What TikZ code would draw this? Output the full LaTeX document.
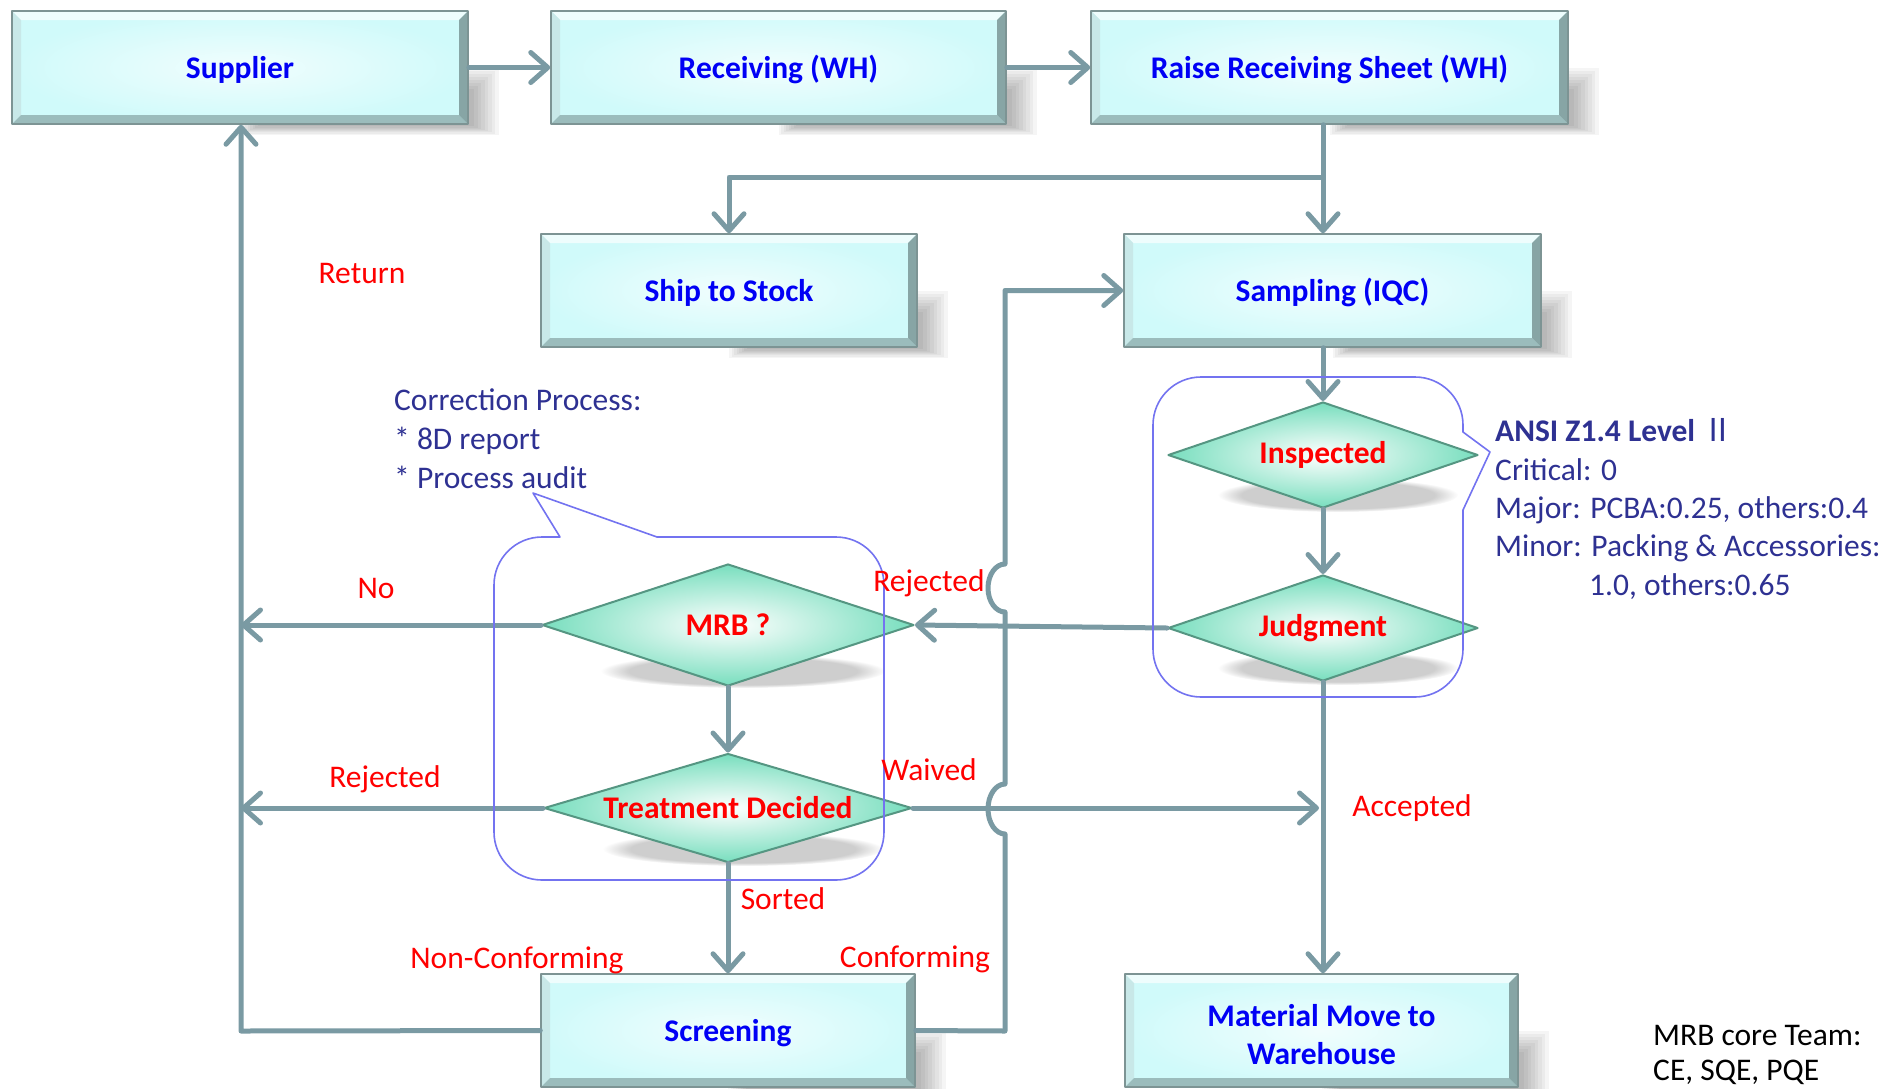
\documentclass[tikz,border=0pt]{standalone}
\usepackage{fontspec}
\setmainfont{Carlito}
\newfontfamily\numfont{Noto Sans CJK SC}
\usetikzlibrary{shapes.geometric,arrows.meta,fadings,calc,backgrounds}

\definecolor{wire}{RGB}{122,154,163}
\definecolor{boxcyan}{RGB}{208,250,250}
\definecolor{boxline}{RGB}{125,148,148}
\definecolor{bevtop}{RGB}{238,253,253}
\definecolor{bevleft}{RGB}{200,232,232}
\definecolor{bevbottom}{RGB}{155,188,188}
\definecolor{bevright}{RGB}{135,165,165}
\definecolor{mint}{RGB}{120,222,190}
\definecolor{mintline}{RGB}{85,150,130}
\definecolor{notecol}{RGB}{46,49,146}
\definecolor{calloutline}{RGB}{115,115,240}
\definecolor{lblred}{RGB}{255,0,0}
\definecolor{boxtext}{RGB}{0,0,245}

% soft shadow to the lower right of a process box
\newcommand\boxshade[1]{%
  \foreach \k in {0,...,7}{%
    \fill[black,opacity=0.04] ($(#1.center)+(2.5*\k,3*\k)$) rectangle ($(#1.south east)+(30-3.5*\k,10-1.2*\k)$);}}
% blurred ellipse under a decision diamond
\newcommand\diashade[3]{%
  \fill[black!60,opacity=0.32,path fading=circle with fuzzy edge 20 percent]
    ($(#1.center)+(15,#3)$) ellipse[x radius=#2, y radius=17pt];}

\begin{document}
\begin{tikzpicture}[x=1pt,y=-1pt,line join=round,
  txt/.style={font=\fontsize{31.5}{38}\selectfont},
  flowbox/.style={rectangle,minimum height=113pt,inner sep=0pt,align=center,
    shading=radial,inner color=boxcyan!30!white,outer color=boxcyan,
    draw=boxline,line width=1.5pt,
    font=\fontsize{31.5}{38}\selectfont\bfseries,text=boxtext,
    path picture={
      \def\pb{path picture bounding box}
      \fill[bevtop] (\pb.north west) -- (\pb.north east) -- ([xshift=-9pt,yshift=-9pt]\pb.north east) -- ([xshift=9pt,yshift=-9pt]\pb.north west) -- cycle;
      \fill[bevleft] (\pb.north west) -- (\pb.south west) -- ([xshift=9pt,yshift=9pt]\pb.south west) -- ([xshift=9pt,yshift=-9pt]\pb.north west) -- cycle;
      \fill[bevbottom] (\pb.south west) -- (\pb.south east) -- ([xshift=-9pt,yshift=9pt]\pb.south east) -- ([xshift=9pt,yshift=9pt]\pb.south west) -- cycle;
      \fill[bevright] (\pb.north east) -- (\pb.south east) -- ([xshift=-9pt,yshift=9pt]\pb.south east) -- ([xshift=-9pt,yshift=-9pt]\pb.north east) -- cycle;
    }},
  oneline/.style={text height=25pt,text depth=4pt},
  decision/.style={diamond,aspect=3.3,inner sep=0pt,
    shading=radial,inner color=white,outer color=mint,
    draw=mintline,line width=2pt,
    font=\fontsize{31.5}{38}\selectfont\bfseries,text=lblred},
  wire/.style={draw=wire,line width=5pt,line cap=round},
  arr/.style={wire,-{Straight Barb[length=17pt,width=30pt,round]}},
  lbl/.style={txt,text=lblred,inner sep=0pt,text height=22pt,text depth=4pt},
  note/.style={txt,text=notecol,inner sep=0pt,anchor=base west},
  callout/.style={draw=calloutline,line width=1.6pt}]

\useasboundingbox (0,0) rectangle (1891,1088);
\clip (0,0) rectangle (1891,1088);

% process boxes
\node[flowbox,oneline,minimum width=456pt] (sup) at (240,67.5) {Supplier};
\node[flowbox,oneline,minimum width=455pt] (rec) at (778.5,67.5) {Receiving (WH)};
\node[flowbox,oneline,minimum width=477pt] (raise) at (1329.5,67.5) {Raise Receiving Sheet (WH)};
\node[flowbox,oneline,minimum width=376pt] (ship) at (729,290.5) {Ship to Stock};
\node[flowbox,oneline,minimum width=417pt] (samp) at (1332.5,290.5) {Sampling (IQC)};
\node[flowbox,oneline,minimum width=374pt] (scr) at (728,1030.5) {Screening};
\node[flowbox,minimum width=393pt] (mat) at (1321.5,1030.5) {\rule{0pt}{30pt}Material Move to\\Warehouse};

% decisions
\node[decision,minimum width=310pt,minimum height=106pt] (insp) at (1323,455) {Inspected};
\node[decision,minimum width=310pt,minimum height=106pt] (judg) at (1323,628) {Judgment};
\node[decision,minimum width=372pt,minimum height=122pt] (mrb) at (728,625) {MRB ?};
\node[decision,minimum width=368pt,minimum height=109pt] (treat) at (728,808) {Treatment Decided};

% shadows behind everything
\begin{scope}[on background layer]
  \foreach \n in {sup,rec,raise,ship,samp,scr,mat}{\boxshade{\n}}
  \diashade{insp}{120pt}{40}
  \diashade{judg}{120pt}{40}
  \diashade{mrb}{142pt}{46}
  \diashade{treat}{140pt}{41}
\end{scope}

% routing points
\coordinate (split) at (1323,177);
\coordinate (retbot) at (241,1031);
\coordinate (loopbot) at (1005,1031);
\coordinate (looptop) at (1005,290.5);

% connectors
\draw[arr] (sup.east) -- (rec.west);
\draw[arr] (rec.east) -- (raise.west);
\draw[wire] (raise.south -| split) -- (split);
\draw[arr] (split) -- (samp.north -| split);
\draw[arr] (split) -| (ship.north);
\draw[arr] (samp.south -| insp) -- (insp.north);
\draw[arr] (insp.south) -- (judg.north);
\draw[arr] (judg.west) -- (mrb.east);
\draw[arr] (mrb.west) -- (mrb.west -| retbot);
\draw[arr] (mrb.south) -- (treat.north);
\draw[arr] (treat.west) -- (treat.west -| retbot);
\draw[arr] (treat.south) -- (scr.north);
\draw[arr,shorten >=4pt] (treat.east) -- (treat.east -| judg);
\draw[arr] (judg.south) -- (mat.north -| judg);
\draw[arr] (scr.west) -- (retbot) -- (sup.south -| retbot);
\draw[arr] (scr.east) -- (loopbot) -- (1005,834)
  arc[start angle=-90,end angle=-270,x radius=17pt,y radius=25pt]
  -- (1005,612)
  arc[start angle=-90,end angle=-270,x radius=17pt,y radius=24pt]
  -- (looptop) -- (samp.west);

% callouts
\draw[callout] (1463,510) -- (1463,649) arc[start angle=0,end angle=-90,radius=48pt]
  -- (1201,697) arc[start angle=-90,end angle=-180,radius=48pt]
  -- (1153,425) arc[start angle=180,end angle=90,radius=48pt]
  -- (1415,377) arc[start angle=90,end angle=0,radius=48pt]
  -- (1463,432) -- (1490,452) -- cycle;
\draw[callout] (657,537) -- (836,537) arc[start angle=90,end angle=0,radius=48pt]
  -- (884,832) arc[start angle=0,end angle=-90,radius=48pt]
  -- (542,880) arc[start angle=-90,end angle=-180,radius=48pt]
  -- (494,585) arc[start angle=180,end angle=90,radius=48pt]
  -- (560,537) -- (533,493) -- cycle;

% branch labels
\node[lbl] (lret) at (362,274) {Return};
\node[lbl] (lno) at (376,589) {No};
\node[lbl] (lrej1) at (929,582) {Rejected};
\node[lbl] (lrej2) at (385,778) {Rejected};
\node[lbl] (lwai) at (929,771) {Waived};
\node[lbl] (lacc) at (1412,807) {Accepted};
\node[lbl] (lsor) at (783,900) {Sorted};
\node[lbl] (lnon) at (517,959) {Non-Conforming};
\node[lbl] (lcon) at (915,958) {Conforming};

% notes
\node[note] (cp1) at (394,410) {Correction Process:};
\node[note] (cp2) at (394,449) {* 8D report};
\node[note] (cp3) at (394,488) {* Process audit};

\node[note,font=\fontsize{31.5}{38}\selectfont\bfseries] (an1) at (1495,441) {ANSI Z1.4 Level {\mdseries\numfont Ⅱ}};
\node[note] (an2) at (1495,480) {Critical: 0};
\node[note] (an3) at (1495,518) {Major: PCBA:0.25, others:0.4};
\node[note] (an4) at (1495,556) {Minor: Packing \& Accessories:};
\node[note] (an5) at (1589,595) {1.0, others:0.65};

\node[note,text=black] (team1) at (1653,1045) {MRB core Team:};
\node[note,text=black] (team2) at (1653,1080) {CE, SQE, PQE};
\end{tikzpicture}
\end{document}
